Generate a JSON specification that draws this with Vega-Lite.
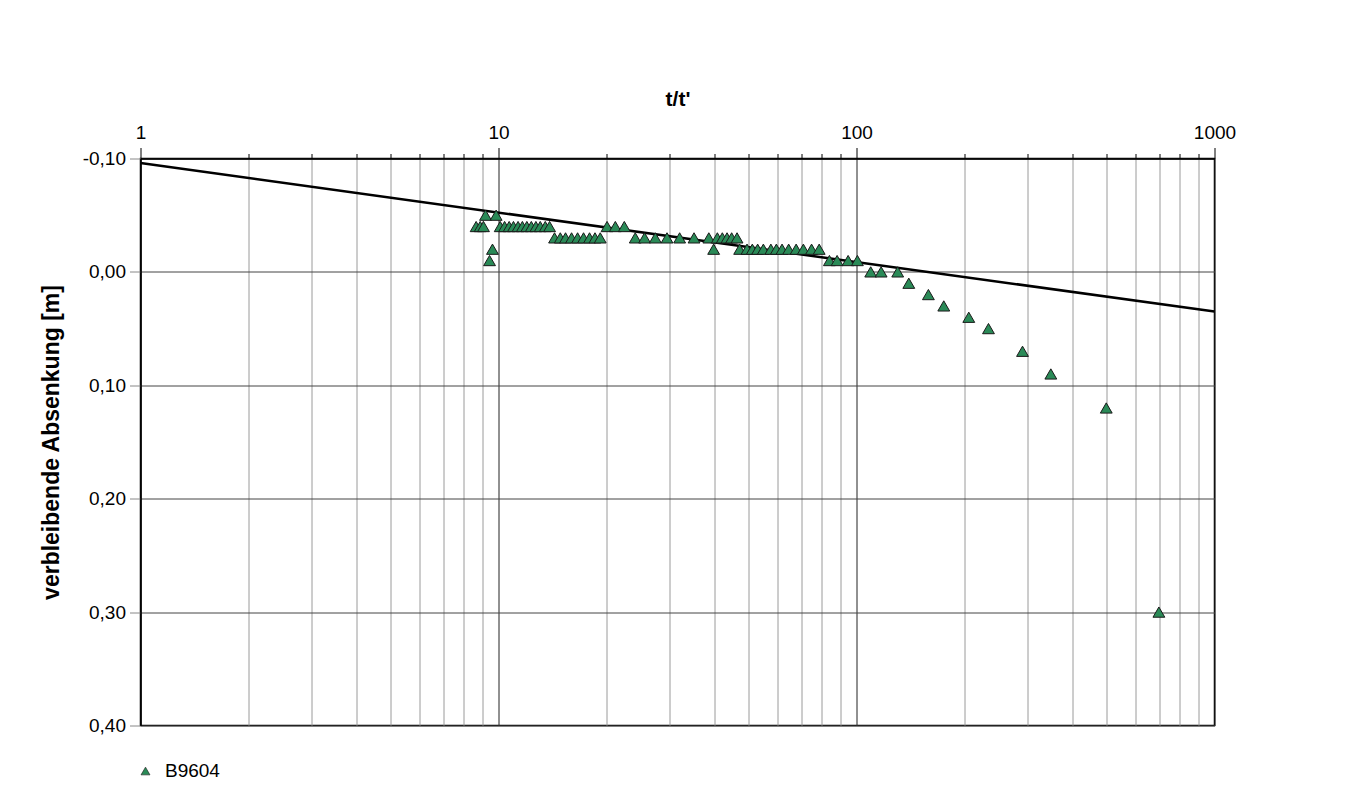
{
  "$schema": "https://vega.github.io/schema/vega-lite/v6.json",
  "width": 1074,
  "height": 567,
  "autosize": {"type": "none"},
  "padding": {"left": 140.5, "top": 158.5, "right": 147.5, "bottom": 73.5},
  "background": "white",
  "config": {
    "font": "Liberation Sans",
    "view": {"stroke": "#000", "strokeWidth": 1.5},
    "locale": {"number": {"decimal": ",", "thousands": ".", "grouping": [3], "currency": ["", " €"], "minus": "-"}}
  },
  "datasets": {
    "fit": [{"t": 1, "s": -0.096}, {"t": 1000, "s": 0.035}],
    "points": [
      {"t": 8.66, "s": -0.04, "series": "B9604"},
      {"t": 8.89, "s": -0.04, "series": "B9604"},
      {"t": 9.08, "s": -0.04, "series": "B9604"},
      {"t": 9.20, "s": -0.05, "series": "B9604"},
      {"t": 9.44, "s": -0.01, "series": "B9604"},
      {"t": 9.62, "s": -0.02, "series": "B9604"},
      {"t": 9.85, "s": -0.05, "series": "B9604"},
      {"t": 10.11, "s": -0.04, "series": "B9604"},
      {"t": 10.40, "s": -0.04, "series": "B9604"},
      {"t": 10.71, "s": -0.04, "series": "B9604"},
      {"t": 11.01, "s": -0.04, "series": "B9604"},
      {"t": 11.34, "s": -0.04, "series": "B9604"},
      {"t": 11.66, "s": -0.04, "series": "B9604"},
      {"t": 12.00, "s": -0.04, "series": "B9604"},
      {"t": 12.35, "s": -0.04, "series": "B9604"},
      {"t": 12.72, "s": -0.04, "series": "B9604"},
      {"t": 13.08, "s": -0.04, "series": "B9604"},
      {"t": 13.51, "s": -0.04, "series": "B9604"},
      {"t": 13.89, "s": -0.04, "series": "B9604"},
      {"t": 14.34, "s": -0.03, "series": "B9604"},
      {"t": 14.88, "s": -0.03, "series": "B9604"},
      {"t": 15.39, "s": -0.03, "series": "B9604"},
      {"t": 16.00, "s": -0.03, "series": "B9604"},
      {"t": 16.63, "s": -0.03, "series": "B9604"},
      {"t": 17.28, "s": -0.03, "series": "B9604"},
      {"t": 17.96, "s": -0.03, "series": "B9604"},
      {"t": 18.60, "s": -0.03, "series": "B9604"},
      {"t": 19.24, "s": -0.03, "series": "B9604"},
      {"t": 20.10, "s": -0.04, "series": "B9604"},
      {"t": 21.20, "s": -0.04, "series": "B9604"},
      {"t": 22.46, "s": -0.04, "series": "B9604"},
      {"t": 24.10, "s": -0.03, "series": "B9604"},
      {"t": 25.59, "s": -0.03, "series": "B9604"},
      {"t": 27.42, "s": -0.03, "series": "B9604"},
      {"t": 29.56, "s": -0.03, "series": "B9604"},
      {"t": 32.06, "s": -0.03, "series": "B9604"},
      {"t": 35.17, "s": -0.03, "series": "B9604"},
      {"t": 38.68, "s": -0.03, "series": "B9604"},
      {"t": 39.90, "s": -0.02, "series": "B9604"},
      {"t": 40.86, "s": -0.03, "series": "B9604"},
      {"t": 42.19, "s": -0.03, "series": "B9604"},
      {"t": 43.49, "s": -0.03, "series": "B9604"},
      {"t": 44.80, "s": -0.03, "series": "B9604"},
      {"t": 46.38, "s": -0.03, "series": "B9604"},
      {"t": 47.16, "s": -0.02, "series": "B9604"},
      {"t": 49.46, "s": -0.02, "series": "B9604"},
      {"t": 51.17, "s": -0.02, "series": "B9604"},
      {"t": 52.95, "s": -0.02, "series": "B9604"},
      {"t": 54.93, "s": -0.02, "series": "B9604"},
      {"t": 57.65, "s": -0.02, "series": "B9604"},
      {"t": 59.72, "s": -0.02, "series": "B9604"},
      {"t": 61.95, "s": -0.02, "series": "B9604"},
      {"t": 64.64, "s": -0.02, "series": "B9604"},
      {"t": 67.83, "s": -0.02, "series": "B9604"},
      {"t": 71.05, "s": -0.02, "series": "B9604"},
      {"t": 74.90, "s": -0.02, "series": "B9604"},
      {"t": 78.66, "s": -0.02, "series": "B9604"},
      {"t": 84.01, "s": -0.01, "series": "B9604"},
      {"t": 88.27, "s": -0.01, "series": "B9604"},
      {"t": 94.75, "s": -0.01, "series": "B9604"},
      {"t": 100.58, "s": -0.01, "series": "B9604"},
      {"t": 109.57, "s": 0.00, "series": "B9604"},
      {"t": 117.18, "s": 0.00, "series": "B9604"},
      {"t": 130.34, "s": 0.00, "series": "B9604"},
      {"t": 139.98, "s": 0.01, "series": "B9604"},
      {"t": 158.8, "s": 0.02, "series": "B9604"},
      {"t": 175.3, "s": 0.03, "series": "B9604"},
      {"t": 205.9, "s": 0.04, "series": "B9604"},
      {"t": 233.7, "s": 0.05, "series": "B9604"},
      {"t": 290.9, "s": 0.07, "series": "B9604"},
      {"t": 349.0, "s": 0.09, "series": "B9604"},
      {"t": 498.5, "s": 0.12, "series": "B9604"},
      {"t": 699.3, "s": 0.30, "series": "B9604"}
    ]
  },
  "layer": [
    {
      "data": {"name": "fit"},
      "mark": {"type": "line", "color": "#000", "strokeWidth": 2.5, "clip": true},
      "encoding": {
        "x": {
          "field": "t", "type": "quantitative",
          "scale": {"type": "log", "domain": [1, 1000]},
          "axis": {
            "orient": "top",
            "values": [2, 3, 4, 5, 6, 7, 8, 9, 20, 30, 40, 50, 60, 70, 80, 90, 200, 300, 400, 500, 600, 700, 800, 900],
            "grid": true, "gridColor": "#9a9a9a", "gridWidth": 1, "gridOpacity": 1,
            "ticks": true, "tickSize": 5, "tickColor": "#000",
            "labels": false, "domain": false, "title": null
          }
        },
        "y": {
          "field": "s", "type": "quantitative",
          "scale": {"domain": [-0.1, 0.4], "reverse": true},
          "axis": {
            "orient": "left",
            "values": [-0.1, 0, 0.1, 0.2, 0.3, 0.4],
            "format": ".2f",
            "grid": true, "gridColor": "#444", "gridWidth": 1, "gridOpacity": 1,
            "tickSize": 11, "tickColor": "#888",
            "domainColor": "#000", "domainWidth": 1.5,
            "labelFontSize": 19, "labelColor": "#000", "labelPadding": 4,
            "title": "verbleibende Absenkung [m]",
            "titleFontSize": 23, "titleFontWeight": "bold", "titleColor": "#000", "titlePadding": 19
          }
        }
      }
    },
    {
      "data": {"name": "points"},
      "mark": {"type": "point", "shape": "triangle-up", "filled": true, "size": 140, "stroke": "#1a1a1a", "strokeWidth": 1, "opacity": 1},
      "encoding": {
        "x": {
          "field": "t", "type": "quantitative",
          "axis": {
            "orient": "top",
            "values": [1, 10, 100, 1000],
            "format": "d",
            "grid": true, "gridColor": "#222", "gridWidth": 1, "gridOpacity": 1,
            "tickSize": 11, "tickColor": "#000",
            "domainColor": "#000", "domainWidth": 1.5,
            "labelFontSize": 19, "labelColor": "#000", "labelPadding": 5, "labelFlush": false,
            "title": "t/t'",
            "titleFontSize": 21, "titleFontWeight": "bold", "titleColor": "#000", "titlePadding": 14
          }
        },
        "y": {"field": "s", "type": "quantitative"},
        "color": {
          "field": "series", "type": "nominal",
          "scale": {"range": ["#2a8a57"]},
          "legend": {
            "orient": "none", "legendX": -4.5, "legendY": 603,
            "title": null, "padding": 0,
            "symbolType": "triangle-up", "symbolSize": 80,
            "symbolStrokeColor": "#1a1a1a", "symbolStrokeWidth": 0.6,
            "labelFontSize": 19, "labelColor": "#000", "labelOffset": 10
          }
        }
      }
    }
  ],
  "resolve": {"axis": {"x": "independent"}}
}
